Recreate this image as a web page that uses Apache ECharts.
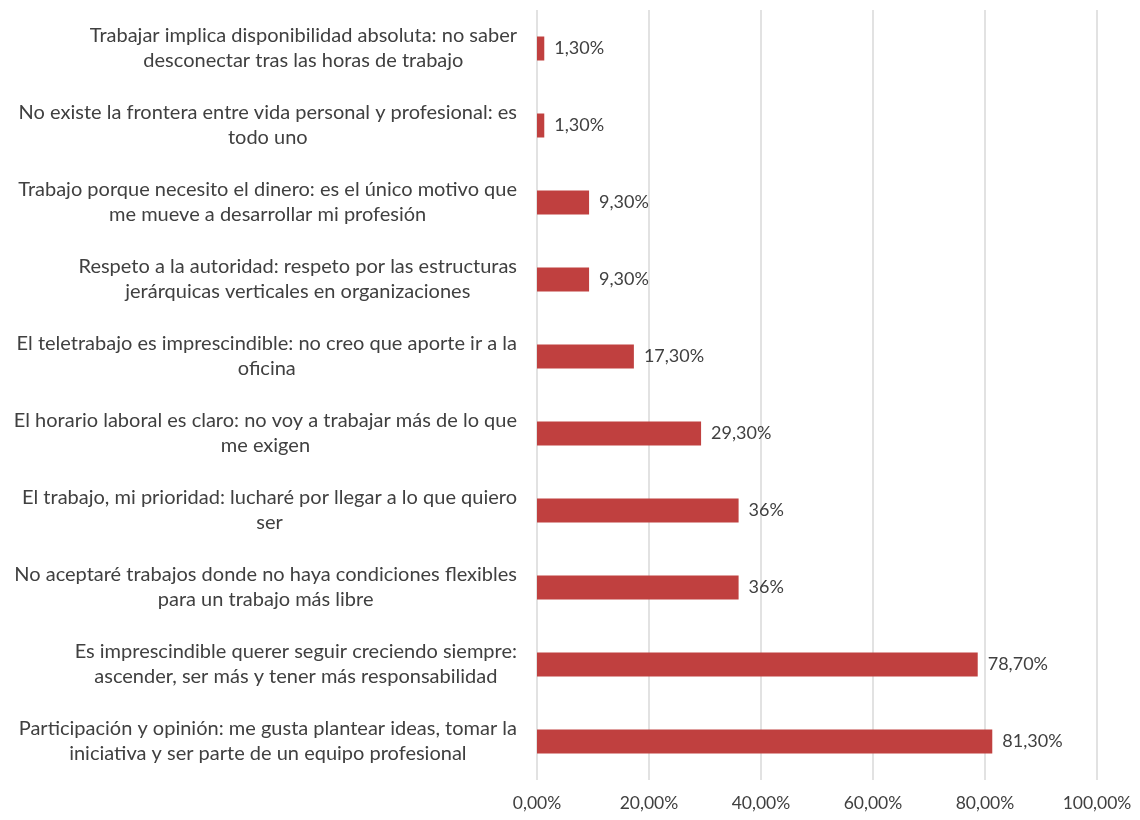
<!DOCTYPE html>
<html><head><meta charset="utf-8">
<script src="https://cdn.jsdelivr.net/npm/echarts@6/dist/echarts.min.js"></script>
<style>html,body{margin:0;padding:0;background:#fff;}#c{width:1140px;height:820px;}</style>
</head><body><div id="c"></div>
<script>
const categories = [
  "Trabajar implica disponibilidad absoluta: no saber\ndesconectar tras las horas de trabajo",
  "No existe la frontera entre vida personal y profesional: es\ntodo uno",
  "Trabajo porque necesito el dinero: es el único motivo que\nme mueve a desarrollar mi profesión",
  "Respeto a la autoridad: respeto por las estructuras\njerárquicas verticales en organizaciones",
  "El teletrabajo es imprescindible: no creo que aporte ir a la\noficina",
  "El horario laboral es claro: no voy a trabajar más de lo que\nme exigen",
  "El trabajo, mi prioridad: lucharé por llegar a lo que quiero\nser",
  "No aceptaré trabajos donde no haya condiciones flexibles\npara un trabajo más libre",
  "Es imprescindible querer seguir creciendo siempre:\nascender, ser más y tener más responsabilidad",
  "Participación y opinión: me gusta plantear ideas, tomar la\niniciativa y ser parte de un equipo profesional"
];
const values = [1.3, 1.3, 9.3, 9.3, 17.3, 29.3, 36, 36, 78.7, 81.3];
const xTicks = [0, 20, 40, 60, 80, 100];

function fmtVal(v){ return Number.isInteger(v) ? v + '%' : v.toFixed(2).replace('.', ',') + '%'; }

const FONT = 'Lato';
const chart = echarts.init(document.getElementById('c'));
chart.setOption({
  animation: false,
  textStyle: {fontFamily: FONT},
  grid: {left: 537, right: 43, top: 10, bottom: 40, containLabel: false},
  xAxis: {
    type: 'value', min: xTicks[0], max: xTicks[xTicks.length-1], interval: 20,
    axisLine: {show: false}, axisTick: {show: false},
    splitLine: {show: true, lineStyle: {color: '#d9d9d9', width: 1.5}},
    axisLabel: {color: '#404040', fontSize: 17.5, margin: 14, fontFamily: FONT,
      formatter: v => v.toFixed(2).replace('.', ',') + '%'}
  },
  yAxis: {
    type: 'category', data: categories, inverse: true,
    axisLine: {show: false}, axisTick: {show: false},
    axisLabel: {
      color: '#404040', fontSize: 20, margin: 20, align: 'right', fontFamily: FONT, lineHeight: 25,
      formatter: s => s.split('\n').map(l => '{c|' + l + '}').join('\n'),
      rich: {c: {align: 'center', fontSize: 20, color: '#404040', fontFamily: FONT, lineHeight: 25}}
    }
  },
  series: [{
    type: 'bar', data: values, barWidth: 24,
    itemStyle: {color: '#c0403f'},
    label: {show: true, position: 'right', distance: 10, color: '#404040', fontSize: 18, fontFamily: FONT,
      formatter: p => fmtVal(p.value)}
  }]
});
</script></body></html>
